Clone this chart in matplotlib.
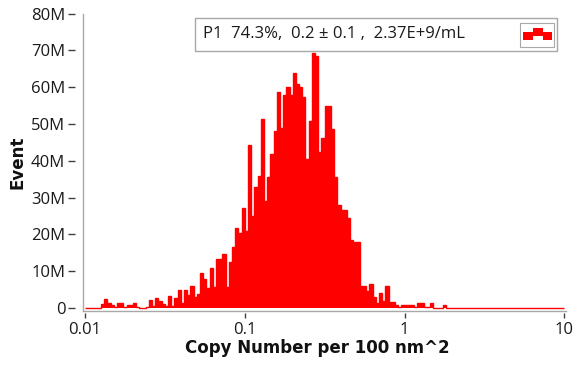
import numpy as np
import matplotlib
matplotlib.use("Agg")
import matplotlib.pyplot as plt
from matplotlib.patches import Rectangle

# histogram: 50 log bins per decade from 0.01 to 10, counts in millions
bin_edges = 10 ** np.linspace(-2, 1, 151)
counts = [
    0, 0, 0, 0, 0, 1.0, 2.5, 1.5, 0.8, 0.2,
    1.3, 1.3, 0.2, 0.8, 0.8, 1.3, 0.2, 0, 0.1, 0.2,
    2.2, 0.5, 2.7, 1.8, 1.2, 0.6, 3.4, 0.6, 2.7, 5.0,
    1.5, 5.0, 3.6, 5.9, 3.0, 3.9, 9.5, 7.8, 5.4, 10.8,
    5.7, 13.2, 13.2, 14.6, 5.7, 12.4, 16.5, 21.8, 20.5, 27.3,
    21.0, 44.3, 25.0, 33.0, 36.0, 51.4, 29.0, 35.7, 42.0, 48.0,
    58.6, 49.0, 58.0, 60.0, 58.0, 63.8, 61.0, 60.0, 57.3, 40.5,
    50.8, 69.4, 68.6, 42.4, 46.2, 55.0, 55.0, 48.6, 35.7, 28.0,
    26.6, 26.6, 24.6, 18.4, 18.0, 18.0, 6.0, 6.0, 4.5, 6.5,
    3.0, 1.5, 4.1, 2.0, 6.0, 1.7, 1.7, 0.8, 0.3, 0.8,
    0.8, 0.8, 0.8, 0.3, 1.5, 1.5, 0.3, 0.3, 1.5, 0,
    0, 0, 0.8, 0, 0, 0, 0, 0, 0, 0,
    0, 0, 0, 0, 0, 0, 0, 0, 0, 0,
    0, 0, 0, 0, 0, 0, 0, 0, 0, 0,
    0, 0, 0, 0, 0, 0, 0, 0, 0, 0,
]
counts = np.array(counts) * 1e6

x_ticks = [0.01, 0.1, 1, 10]
x_ticklabels = ["0.01", "0.1", "1", "10"]
y_ticks = np.arange(0, 81e6, 10e6)
y_ticklabels = ["0"] + ["%dM" % v for v in range(10, 81, 10)]
legend_text = "P1  74.3%,  0.2 \u00b1 0.1 ,  2.37E+9/mL"

plt.rcParams["font.family"] = ["Open Sans", "DejaVu Sans"]
label_font = dict(family="DejaVu Sans", fontsize=12, fontweight="bold", color="#111111")

W, H = 581, 375
fig = plt.figure(figsize=(W / 100, H / 100), dpi=100)
ax_l, ax_r, ax_t, ax_b = 83, 566, 13.7, 311
ax = fig.add_axes([ax_l / W, 1 - ax_b / H, (ax_r - ax_l) / W, (ax_b - ax_t) / H])

ax.stairs(counts, bin_edges, fill=True, color="#ff0000", lw=0)
ax.stairs(counts, bin_edges, color="#ff0000", lw=1)

ax.set_xscale("log")
ax.set_xlim(10 ** (-2 - 2 / 159.8), 10 ** (1 + 1.7 / 159.8))
ax.set_ylim(-0.8e6, 80e6)
ax.set_xticks(x_ticks)
ax.set_xticklabels(x_ticklabels)
ax.xaxis.set_minor_locator(matplotlib.ticker.NullLocator())
ax.set_yticks(y_ticks)
ax.set_yticklabels(y_ticklabels)

for s in ["top", "right", "left", "bottom"]:
    ax.spines[s].set_visible(False)
ax.spines["left"].set_position(("outward", 8 * 0.72))
ax.spines["bottom"].set_position(("outward", 2 * 0.72))
frame = "#a8a8a8"
ax.plot([0, 0], [0, 1], transform=ax.transAxes, color=frame, lw=1, clip_on=False)
ax.plot([0, 1], [0, 0], transform=ax.transAxes, color=frame, lw=1, clip_on=False)

ax.tick_params(axis="y", length=5, width=1, color="#404040", pad=2, labelsize=12, labelcolor="#1a1a1a")
ax.tick_params(axis="x", length=3.6, width=1, color="#404040", pad=3, labelsize=12, labelcolor="#1a1a1a")

ax.set_xlabel("Copy Number per 100 nm^2", **label_font)
ax.xaxis.set_label_coords((317.5 - ax_l) / (ax_r - ax_l), (ax_b - 339) / (ax_b - ax_t))
ax.set_ylabel("Event", **label_font)
ax.yaxis.set_label_coords((26 - ax_l) / (ax_r - ax_l), 0.5)


def fig_rect(x0, y0, x1, y1, **kw):
    fig.add_artist(Rectangle((x0 / W, 1 - y1 / H), (x1 - x0) / W, (y1 - y0) / H,
                             transform=fig.transFigure, **kw))


# legend box
fig_rect(195, 18, 557, 51, facecolor="white", edgecolor=frame, lw=1)
fig.text(203 / W, 1 - 34.5 / H, legend_text, fontsize=12, color="#1a1a1a", va="center")
fig_rect(520, 23, 554, 47, facecolor="white", edgecolor=frame, lw=0.8)
fig_rect(533, 28, 543, 32, facecolor="#ff0000", lw=0)
fig_rect(523, 32, 552, 36, facecolor="#ff0000", lw=0)
fig_rect(523, 36, 533, 40, facecolor="#ff0000", lw=0)
fig_rect(543, 36, 552, 40, facecolor="#ff0000", lw=0)

fig.savefig("out.png", dpi=100)
